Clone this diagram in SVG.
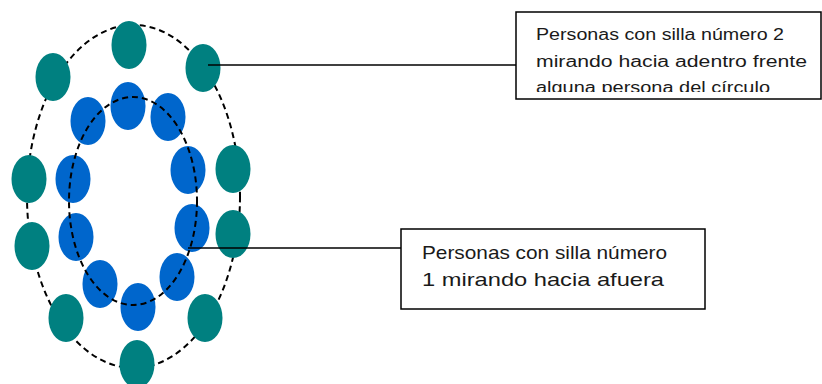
<svg xmlns="http://www.w3.org/2000/svg" width="822" height="384" viewBox="0 0 822 384">
<style>
.teal{fill:#008080}
.blue{fill:#0066CC}
.dash{fill:none;stroke:#000;stroke-width:2;stroke-dasharray:6 4}
.box{fill:#fff;stroke:#000;stroke-width:1.5}
.conn{stroke:#000;stroke-width:1.5;fill:none}
.t{font-family:"Century Gothic","URW Gothic","Liberation Sans",sans-serif;fill:#1a1a1a}
</style>
<defs>
<clipPath id="clipTop"><rect x="516" y="12" width="306" height="80"/></clipPath>
</defs>
<rect width="822" height="384" fill="#fff"/>
<g id="outer-ring">
<ellipse class="dash" cx="133.5" cy="196.5" rx="106.5" ry="171.5"/>
<ellipse class="teal" cx="53" cy="77" rx="17.5" ry="24"/>
<ellipse class="teal" cx="129" cy="45" rx="17.5" ry="24"/>
<ellipse class="teal" cx="203" cy="68" rx="17.5" ry="24"/>
<ellipse class="teal" cx="233" cy="169" rx="17.5" ry="24"/>
<ellipse class="teal" cx="233" cy="234" rx="17.5" ry="24"/>
<ellipse class="teal" cx="205" cy="318" rx="17.5" ry="24"/>
<ellipse class="teal" cx="137" cy="364" rx="17.5" ry="24"/>
<ellipse class="teal" cx="66" cy="318" rx="17.5" ry="24"/>
<ellipse class="teal" cx="32" cy="246" rx="17.5" ry="24"/>
<ellipse class="teal" cx="29" cy="179" rx="17.5" ry="24"/>
</g>
<g id="inner-ring">
<ellipse class="blue" cx="88" cy="121" rx="17.5" ry="24"/>
<ellipse class="blue" cx="128" cy="106" rx="17.5" ry="24"/>
<ellipse class="blue" cx="168" cy="117" rx="17.5" ry="24"/>
<ellipse class="blue" cx="188" cy="170" rx="17.5" ry="24"/>
<ellipse class="blue" cx="192" cy="228" rx="17.5" ry="24"/>
<ellipse class="blue" cx="177" cy="277" rx="17.5" ry="24"/>
<ellipse class="blue" cx="138" cy="307" rx="17.5" ry="24"/>
<ellipse class="blue" cx="100" cy="284" rx="17.5" ry="24"/>
<ellipse class="blue" cx="76" cy="237" rx="17.5" ry="24"/>
<ellipse class="blue" cx="73" cy="179" rx="17.5" ry="24"/>
<ellipse class="dash" cx="133" cy="201" rx="64" ry="104"/>
</g>
<g id="connectors">
<line class="conn" x1="208" y1="65" x2="516" y2="65"/>
<line class="conn" x1="188" y1="248" x2="401" y2="248"/>
</g>
<g id="label-top">
<rect class="box" x="516" y="12" width="305" height="87"/>
<g clip-path="url(#clipTop)">
<text class="t" font-size="16" x="536" y="40" textLength="248" lengthAdjust="spacingAndGlyphs">Personas con silla número 2</text>
<text class="t" font-size="16" x="536" y="66.5" textLength="271" lengthAdjust="spacingAndGlyphs">mirando hacia adentro frente</text>
<text class="t" font-size="16" x="536" y="93" textLength="234" lengthAdjust="spacingAndGlyphs">alguna persona del círculo</text>
</g>
</g>
<g id="label-bottom">
<rect class="box" x="401" y="229" width="304" height="80"/>
<text class="t" font-size="18.5" x="422" y="259" textLength="245" lengthAdjust="spacingAndGlyphs">Personas con silla número</text>
<text class="t" font-size="18.5" x="422" y="286" textLength="242" lengthAdjust="spacingAndGlyphs">1 mirando hacia afuera</text>
</g>
</svg>
